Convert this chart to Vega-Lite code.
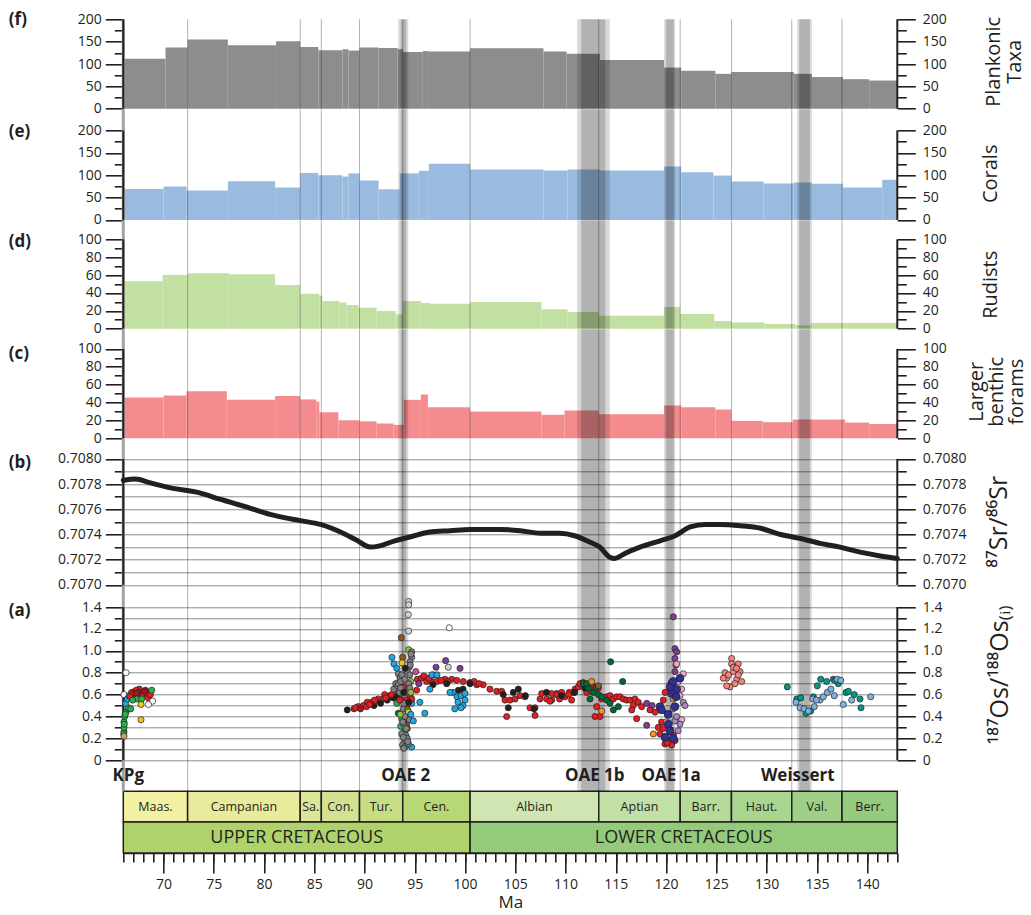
{
"$schema": "https://vega.github.io/schema/vega-lite/v6.json",
"autosize": {"type": "none"},
"padding": {"left": 123.3, "top": 19.3, "right": 907.7, "bottom": 895.7},
"background": "white",
"spacing": 0,
"bounds": "flush",
"resolve": {"scale": {"fill": "independent"}},
"config": {
 "view": {"stroke": null},
 "font": "Open Sans",
 "axis": {"labelFontSize": 14, "labelColor": "#231f20", "tickColor": "#231f20", "tickWidth": 1.6, "titleColor": "#231f20", "labelOverlap": false, "labelFlush": false, "labelFont": "Open Sans", "titleFont": "Open Sans"}
},
"datasets": {
 "plank": [
  {"start":66,"end":70.2,"n":112},{"start":70.2,"end":72.4,"n":137},{"start":72.4,"end":76.4,"n":155},{"start":76.4,"end":81.2,"n":142},{"start":81.2,"end":83.6,"n":151},{"start":83.6,"end":85.4,"n":138},{"start":85.4,"end":87.8,"n":131},{"start":87.8,"end":88.4,"n":133},{"start":88.4,"end":89.5,"n":130},{"start":89.5,"end":91.4,"n":137},{"start":91.4,"end":93.3,"n":136},{"start":93.3,"end":93.8,"n":133},{"start":93.8,"end":95.8,"n":127},{"start":95.8,"end":96.4,"n":129},{"start":96.4,"end":100.5,"n":128},{"start":100.5,"end":107.8,"n":135},{"start":107.8,"end":110.1,"n":128},{"start":110.1,"end":113.4,"n":123},{"start":113.4,"end":119.8,"n":109},{"start":119.8,"end":121.5,"n":92},{"start":121.5,"end":124.9,"n":85},{"start":124.9,"end":126.5,"n":78},{"start":126.5,"end":132.7,"n":82},{"start":132.7,"end":134.5,"n":78},{"start":134.5,"end":137.6,"n":71},{"start":137.6,"end":140.2,"n":66},{"start":140.2,"end":143,"n":63}
 ],
 "corals": [
  {"start":66,"end":70.0,"n":69},{"start":70.0,"end":72.3,"n":74.6},{"start":72.3,"end":76.4,"n":65.6},{"start":76.4,"end":81.1,"n":86.5},{"start":81.1,"end":83.6,"n":72.4},{"start":83.6,"end":85.4,"n":105},{"start":85.4,"end":87.8,"n":100},{"start":87.8,"end":88.4,"n":97},{"start":88.4,"end":89.5,"n":104},{"start":89.5,"end":91.4,"n":88},{"start":91.4,"end":93.5,"n":68.5},{"start":93.5,"end":95.4,"n":104},{"start":95.4,"end":96.4,"n":109.8},{"start":96.4,"end":100.5,"n":125.4},{"start":100.5,"end":107.8,"n":112.7},{"start":107.8,"end":110.2,"n":110.4},{"start":110.2,"end":113.4,"n":112.7},{"start":113.4,"end":119.8,"n":110.4},{"start":119.8,"end":121.5,"n":119.4},{"start":121.5,"end":124.7,"n":106.6},{"start":124.7,"end":126.5,"n":99.2},{"start":126.5,"end":129.7,"n":85.8},{"start":129.7,"end":132.7,"n":81.3},{"start":132.7,"end":134.5,"n":83.6},{"start":134.5,"end":137.6,"n":80.6},{"start":137.6,"end":141.5,"n":72.4},{"start":141.5,"end":143,"n":89.6}
 ],
 "rudists": [
  {"start":66,"end":69.9,"n":53},{"start":69.9,"end":72.4,"n":60},{"start":72.4,"end":76.5,"n":62},{"start":76.5,"end":81.1,"n":61},{"start":81.1,"end":83.6,"n":48.9},{"start":83.6,"end":85.5,"n":39},{"start":85.5,"end":85.8,"n":37},{"start":85.8,"end":87.5,"n":31},{"start":87.5,"end":88.2,"n":29.3},{"start":88.2,"end":89.4,"n":26.5},{"start":89.4,"end":91.2,"n":23.5},{"start":91.2,"end":93.1,"n":19.8},{"start":93.1,"end":93.8,"n":16},{"start":93.8,"end":95.6,"n":31},{"start":95.6,"end":96.5,"n":28.7},{"start":96.5,"end":100.5,"n":28},{"start":100.5,"end":107.6,"n":29.9},{"start":107.6,"end":110.2,"n":21.7},{"start":110.2,"end":113.3,"n":18.7},{"start":113.3,"end":119.8,"n":14.6},{"start":119.8,"end":121.4,"n":24.3},{"start":121.4,"end":124.8,"n":16.4},{"start":124.8,"end":126.5,"n":8.6},{"start":126.5,"end":129.8,"n":6.8},{"start":129.8,"end":132.9,"n":5.3},{"start":132.9,"end":134.4,"n":3.8},{"start":134.4,"end":143,"n":6.4}
 ],
 "lbf": [
  {"start":66,"end":70.0,"n":45.7},{"start":70.0,"end":72.3,"n":48},{"start":72.3,"end":76.3,"n":52.5},{"start":76.3,"end":81.1,"n":43.1},{"start":81.1,"end":83.6,"n":47.2},{"start":83.6,"end":85.2,"n":43.5},{"start":85.2,"end":85.5,"n":41},{"start":85.5,"end":87.4,"n":29.2},{"start":87.4,"end":89.5,"n":20.2},{"start":89.5,"end":91.2,"n":19},{"start":91.2,"end":92.9,"n":16.5},{"start":92.9,"end":93.9,"n":15},{"start":93.9,"end":95.6,"n":43},{"start":95.6,"end":96.3,"n":49},{"start":96.3,"end":100.5,"n":34.8},{"start":100.5,"end":107.6,"n":30},{"start":107.6,"end":109.9,"n":26.3},{"start":109.9,"end":113.3,"n":31.1},{"start":113.3,"end":119.8,"n":27},{"start":119.8,"end":121.5,"n":36.7},{"start":121.5,"end":124.9,"n":34.8},{"start":124.9,"end":126.5,"n":32.2},{"start":126.5,"end":129.6,"n":19.5},{"start":129.6,"end":132.6,"n":18},{"start":132.6,"end":137.8,"n":21},{"start":137.8,"end":140.2,"n":17.6},{"start":140.2,"end":143,"n":16}
 ],
 "sr": [
  {"Ma":66,"sr":0.70783},{"Ma":67.2,"sr":0.70784},{"Ma":68.7,"sr":0.70781},{"Ma":70.7,"sr":0.70777},{"Ma":73.6,"sr":0.70773},{"Ma":75.6,"sr":0.70768},{"Ma":78.6,"sr":0.70761},{"Ma":80.6,"sr":0.70756},{"Ma":83.6,"sr":0.70751},{"Ma":85.6,"sr":0.70748},{"Ma":87.6,"sr":0.70742},{"Ma":89.1,"sr":0.70736},{"Ma":90.6,"sr":0.7073},{"Ma":91.5,"sr":0.70731},{"Ma":93.0,"sr":0.70735},{"Ma":94.5,"sr":0.70738},{"Ma":96.5,"sr":0.70742},{"Ma":98.5,"sr":0.70743},{"Ma":100.5,"sr":0.70744},{"Ma":103.5,"sr":0.70744},{"Ma":105.5,"sr":0.70743},{"Ma":107.5,"sr":0.70741},{"Ma":109.4,"sr":0.70741},{"Ma":110.9,"sr":0.70739},{"Ma":112.4,"sr":0.70734},{"Ma":113.4,"sr":0.7073},{"Ma":114.4,"sr":0.70722},{"Ma":114.9,"sr":0.70721},{"Ma":115.9,"sr":0.70725},{"Ma":117.4,"sr":0.7073},{"Ma":119.4,"sr":0.70735},{"Ma":120.9,"sr":0.70739},{"Ma":122.4,"sr":0.70746},{"Ma":123.9,"sr":0.70748},{"Ma":125.4,"sr":0.70748},{"Ma":127.4,"sr":0.70747},{"Ma":129.4,"sr":0.70745},{"Ma":131.4,"sr":0.7074},{"Ma":133.3,"sr":0.70737},{"Ma":135.3,"sr":0.70733},{"Ma":137.3,"sr":0.7073},{"Ma":139.3,"sr":0.70726},{"Ma":141.3,"sr":0.70723},{"Ma":143,"sr":0.70721}
 ],
 "bands": [
  {"event":"OAE 2","s":93.35,"e":94.35,"part":"outer"},{"event":"OAE 2","s":93.6,"e":94.15,"part":"core"},
  {"event":"OAE 1b","s":111.15,"e":114.4,"part":"outer"},{"event":"OAE 1b","s":111.55,"e":113.95,"part":"core"},
  {"event":"OAE 1a","s":119.8,"e":120.9,"part":"outer"},{"event":"OAE 1a","s":120.0,"e":120.75,"part":"core"},
  {"event":"Weissert","s":133.05,"e":134.5,"part":"outer"},{"event":"Weissert","s":133.25,"e":134.3,"part":"core"}
 ],
 "bounds": [{"Ma":72.4},{"Ma":83.6},{"Ma":85.7},{"Ma":89.5},{"Ma":93.8},{"Ma":100.5},{"Ma":113.3},{"Ma":121.4},{"Ma":126.5},{"Ma":132.5},{"Ma":137.5}],
 "kpg": [{"Ma":66}],
 "frame": [{"Ma":66},{"Ma":143}],
 "events": [{"name":"KPg","Ma":66.5},{"name":"OAE 2","Ma":94.1},{"name":"OAE 1b","Ma":112.9},{"name":"OAE 1a","Ma":120.5},{"name":"Weissert","Ma":133.1}],
 "stages": [
  {"name":"Maas.","start":66,"end":72.4},{"name":"Campanian","start":72.4,"end":83.6},{"name":"Sa.","start":83.6,"end":85.7},{"name":"Con.","start":85.7,"end":89.5},{"name":"Tur.","start":89.5,"end":93.8},{"name":"Cen.","start":93.8,"end":100.5},{"name":"Albian","start":100.5,"end":113.3},{"name":"Aptian","start":113.3,"end":121.4},{"name":"Barr.","start":121.4,"end":126.5},{"name":"Haut.","start":126.5,"end":132.5},{"name":"Val.","start":132.5,"end":137.5},{"name":"Berr.","start":137.5,"end":143}
 ],
 "eras": [{"name":"UPPER CRETACEOUS","start":66,"end":100.5},{"name":"LOWER CRETACEOUS","start":100.5,"end":143}],
 "os": [
  {"Ma":66.27,"os":0.80,"grp":"s05"},{"Ma":66.07,"os":0.60,"grp":"s05"},{"Ma":66.07,"os":0.26,"grp":"s07"},{"Ma":66.07,"os":0.30,"grp":"s07"},{"Ma":66.07,"os":0.35,"grp":"s07"},{"Ma":66.14,"os":0.40,"grp":"s07"},{"Ma":66.27,"os":0.44,"grp":"s07"},{"Ma":66.5,"os":0.48,"grp":"s07"},{"Ma":66.74,"os":0.47,"grp":"s07"},{"Ma":66.04,"os":0.24,"grp":"s07"},{"Ma":66.1,"os":0.33,"grp":"s07"},{"Ma":66.2,"os":0.42,"grp":"s07"},{"Ma":66.07,"os":0.22,"grp":"s12"},{"Ma":66.24,"os":0.52,"grp":"s06"},{"Ma":66.4,"os":0.56,"grp":"s06"},{"Ma":66.57,"os":0.59,"grp":"s06"},{"Ma":66.83,"os":0.62,"grp":"s01"},{"Ma":67.16,"os":0.63,"grp":"s01"},{"Ma":67.6,"os":0.65,"grp":"s01"},{"Ma":68.0,"os":0.62,"grp":"s01"},{"Ma":68.33,"os":0.61,"grp":"s01"},{"Ma":68.5,"os":0.57,"grp":"s01"},{"Ma":67.0,"os":0.59,"grp":"s01"},{"Ma":67.83,"os":0.59,"grp":"s01"},{"Ma":67.3,"os":0.64,"grp":"s01"},{"Ma":66.9,"os":0.60,"grp":"s01"},{"Ma":68.7,"os":0.60,"grp":"s01"},{"Ma":66.67,"os":0.58,"grp":"s01"},{"Ma":67.5,"os":0.62,"grp":"s22"},{"Ma":67.3,"os":0.61,"grp":"s22"},{"Ma":68.2,"os":0.64,"grp":"s22"},{"Ma":68.1,"os":0.63,"grp":"s22"},{"Ma":68.83,"os":0.64,"grp":"s07"},{"Ma":67.33,"os":0.56,"grp":"s07"},{"Ma":67.83,"os":0.56,"grp":"s07"},{"Ma":66.93,"os":0.55,"grp":"s07"},{"Ma":68.92,"os":0.54,"grp":"s05"},{"Ma":68.5,"os":0.51,"grp":"s05"},{"Ma":67.76,"os":0.51,"grp":"s11"},{"Ma":67.76,"os":0.37,"grp":"s11"},
  {"Ma":88.28,"os":0.46,"grp":"s02"},{"Ma":88.95,"os":0.47,"grp":"s01"},{"Ma":89.38,"os":0.49,"grp":"s01"},{"Ma":89.88,"os":0.50,"grp":"s01"},{"Ma":90.27,"os":0.53,"grp":"s01"},{"Ma":90.71,"os":0.53,"grp":"s01"},{"Ma":90.94,"os":0.50,"grp":"s02"},{"Ma":91.37,"os":0.56,"grp":"s01"},{"Ma":91.87,"os":0.56,"grp":"s01"},{"Ma":92.26,"os":0.55,"grp":"s02"},{"Ma":92.53,"os":0.59,"grp":"s01"},{"Ma":93.03,"os":0.62,"grp":"s01"},{"Ma":92.0,"os":0.60,"grp":"s01"},{"Ma":92.86,"os":0.57,"grp":"s02"},{"Ma":90.2,"os":0.49,"grp":"s01"},{"Ma":89.1,"os":0.48,"grp":"s01"},{"Ma":89.6,"os":0.47,"grp":"s22"},{"Ma":90.5,"os":0.51,"grp":"s01"},{"Ma":91.1,"os":0.54,"grp":"s01"},{"Ma":91.6,"os":0.52,"grp":"s02"},{"Ma":92.1,"os":0.57,"grp":"s01"},{"Ma":92.7,"os":0.60,"grp":"s01"},{"Ma":93.2,"os":0.58,"grp":"s02"},{"Ma":91.0,"os":0.55,"grp":"s01"},{"Ma":92.9,"os":0.65,"grp":"s03"},{"Ma":93.1,"os":0.70,"grp":"s03"},{"Ma":93.3,"os":0.68,"grp":"s03"},
  {"Ma":94.39,"os":1.45,"grp":"s04"},{"Ma":94.39,"os":1.42,"grp":"s04"},{"Ma":94.35,"os":1.33,"grp":"s04"},{"Ma":94.39,"os":1.18,"grp":"s04"},{"Ma":93.66,"os":1.12,"grp":"s10"},{"Ma":94.39,"os":1.01,"grp":"s08"},{"Ma":94.69,"os":0.99,"grp":"s03"},{"Ma":94.69,"os":0.94,"grp":"s03"},{"Ma":94.52,"os":0.90,"grp":"s03"},{"Ma":94.45,"os":0.85,"grp":"s03"},{"Ma":94.25,"os":0.81,"grp":"s03"},{"Ma":93.36,"os":0.79,"grp":"s03"},{"Ma":93.52,"os":0.75,"grp":"s03"},{"Ma":93.79,"os":0.94,"grp":"s10"},{"Ma":92.73,"os":0.94,"grp":"s06"},{"Ma":92.93,"os":0.88,"grp":"s06"},{"Ma":93.2,"os":0.84,"grp":"s06"},{"Ma":93.73,"os":0.89,"grp":"s11"},{"Ma":95.1,"os":0.81,"grp":"s18"},{"Ma":94.6,"os":0.72,"grp":"s08"},{"Ma":94.3,"os":0.64,"grp":"s07"},{"Ma":93.86,"os":0.67,"grp":"s01"},{"Ma":94.52,"os":0.59,"grp":"s01"},{"Ma":95.18,"os":0.64,"grp":"s01"},{"Ma":93.7,"os":0.56,"grp":"s01"},{"Ma":94.2,"os":0.50,"grp":"s01"},{"Ma":93.5,"os":0.62,"grp":"s03"},{"Ma":94.0,"os":0.59,"grp":"s03"},{"Ma":93.86,"os":0.47,"grp":"s03"},{"Ma":93.2,"os":0.52,"grp":"s07"},{"Ma":94.3,"os":0.46,"grp":"s07"},{"Ma":94.7,"os":0.52,"grp":"s06"},{"Ma":95.5,"os":0.53,"grp":"s06"},{"Ma":96.0,"os":0.43,"grp":"s06"},{"Ma":93.36,"os":0.43,"grp":"s09"},{"Ma":94.36,"os":0.44,"grp":"s11"},{"Ma":94.2,"os":0.38,"grp":"s01"},{"Ma":93.7,"os":0.38,"grp":"s07"},{"Ma":94.2,"os":0.33,"grp":"s10"},{"Ma":94.25,"os":0.29,"grp":"s10"},{"Ma":93.6,"os":0.31,"grp":"s07"},{"Ma":93.95,"os":0.26,"grp":"s03"},{"Ma":94.1,"os":0.23,"grp":"s03"},{"Ma":94.0,"os":0.18,"grp":"s03"},{"Ma":94.25,"os":0.20,"grp":"s03"},{"Ma":93.79,"os":0.14,"grp":"s03"},{"Ma":94.1,"os":0.13,"grp":"s07"},{"Ma":94.69,"os":0.12,"grp":"s06"},{"Ma":94.36,"os":0.15,"grp":"s03"},{"Ma":93.9,"os":0.33,"grp":"s03"},{"Ma":94.45,"os":0.37,"grp":"s03"},{"Ma":93.7,"os":0.24,"grp":"s03"},{"Ma":94.85,"os":0.36,"grp":"s06"},{"Ma":94.6,"os":0.42,"grp":"s06"},{"Ma":93.36,"os":0.70,"grp":"s03"},{"Ma":93.6,"os":0.72,"grp":"s03"},{"Ma":93.7,"os":0.78,"grp":"s03"},{"Ma":94.0,"os":0.74,"grp":"s03"},{"Ma":94.7,"os":0.56,"grp":"s01"},{"Ma":94.2,"os":0.55,"grp":"s01"},{"Ma":94.4,"os":0.70,"grp":"s03"},{"Ma":94.5,"os":0.66,"grp":"s03"},{"Ma":94.1,"os":0.62,"grp":"s03"},{"Ma":93.9,"os":0.52,"grp":"s03"},{"Ma":94.0,"os":0.40,"grp":"s03"},{"Ma":93.8,"os":0.35,"grp":"s03"},{"Ma":94.15,"os":0.29,"grp":"s03"},{"Ma":93.85,"os":0.21,"grp":"s03"},{"Ma":94.3,"os":0.17,"grp":"s03"},{"Ma":94.5,"os":0.78,"grp":"s03"},{"Ma":94.55,"os":0.87,"grp":"s03"},{"Ma":94.62,"os":0.97,"grp":"s03"},{"Ma":93.6,"os":0.66,"grp":"s03"},{"Ma":94.05,"os":0.84,"grp":"s02"},{"Ma":93.9,"os":0.62,"grp":"s02"},{"Ma":94.4,"os":0.53,"grp":"s02"},{"Ma":93.5,"os":0.55,"grp":"s01"},{"Ma":94.6,"os":0.62,"grp":"s08"},{"Ma":93.55,"os":0.42,"grp":"s08"},{"Ma":93.9,"os":0.11,"grp":"s03"},
  {"Ma":95.25,"os":0.74,"grp":"s01"},{"Ma":95.68,"os":0.75,"grp":"s01"},{"Ma":96.18,"os":0.72,"grp":"s01"},{"Ma":96.68,"os":0.72,"grp":"s01"},{"Ma":97.18,"os":0.72,"grp":"s01"},{"Ma":98.0,"os":0.74,"grp":"s01"},{"Ma":98.67,"os":0.74,"grp":"s01"},{"Ma":99.17,"os":0.73,"grp":"s01"},{"Ma":99.82,"os":0.72,"grp":"s01"},{"Ma":100.49,"os":0.71,"grp":"s01"},{"Ma":101.16,"os":0.69,"grp":"s01"},{"Ma":101.8,"os":0.69,"grp":"s01"},{"Ma":102.48,"os":0.65,"grp":"s01"},{"Ma":103.15,"os":0.63,"grp":"s01"},{"Ma":103.64,"os":0.63,"grp":"s01"},{"Ma":103.97,"os":0.55,"grp":"s01"},{"Ma":104.47,"os":0.55,"grp":"s01"},{"Ma":104.97,"os":0.56,"grp":"s01"},{"Ma":105.47,"os":0.59,"grp":"s01"},{"Ma":105.96,"os":0.58,"grp":"s01"},{"Ma":106.46,"os":0.48,"grp":"s01"},{"Ma":106.96,"os":0.48,"grp":"s01"},{"Ma":107.46,"os":0.56,"grp":"s01"},{"Ma":108.12,"os":0.56,"grp":"s01"},{"Ma":108.62,"os":0.55,"grp":"s01"},{"Ma":109.12,"os":0.61,"grp":"s01"},{"Ma":96.84,"os":0.78,"grp":"s01"},{"Ma":95.9,"os":0.77,"grp":"s01"},{"Ma":96.4,"os":0.75,"grp":"s01"},{"Ma":97.6,"os":0.73,"grp":"s01"},{"Ma":98.3,"os":0.72,"grp":"s01"},{"Ma":100.9,"os":0.72,"grp":"s01"},{"Ma":101.4,"os":0.70,"grp":"s01"},{"Ma":95.4,"os":0.70,"grp":"s13"},
  {"Ma":98.17,"os":0.70,"grp":"s02"},{"Ma":99.33,"os":0.64,"grp":"s02"},{"Ma":99.8,"os":0.65,"grp":"s02"},{"Ma":100.5,"os":0.70,"grp":"s02"},{"Ma":103.8,"os":0.60,"grp":"s02"},{"Ma":104.8,"os":0.62,"grp":"s02"},{"Ma":105.3,"os":0.65,"grp":"s02"},{"Ma":104.3,"os":0.48,"grp":"s02"},{"Ma":106.0,"os":0.59,"grp":"s02"},{"Ma":106.86,"os":0.47,"grp":"s02"},{"Ma":96.8,"os":0.69,"grp":"s02"},{"Ma":104.14,"os":0.40,"grp":"s01"},{"Ma":106.96,"os":0.41,"grp":"s01"},
  {"Ma":98.8,"os":0.62,"grp":"s06"},{"Ma":99.2,"os":0.58,"grp":"s06"},{"Ma":99.6,"os":0.59,"grp":"s06"},{"Ma":100.0,"os":0.55,"grp":"s06"},{"Ma":99.3,"os":0.53,"grp":"s06"},{"Ma":99.8,"os":0.50,"grp":"s06"},{"Ma":98.98,"os":0.47,"grp":"s06"},{"Ma":99.6,"os":0.48,"grp":"s06"},{"Ma":98.5,"os":0.62,"grp":"s06"},{"Ma":100.0,"os":0.61,"grp":"s06"},{"Ma":96.7,"os":0.78,"grp":"s06"},{"Ma":96.5,"os":0.65,"grp":"s06"},{"Ma":97.2,"os":0.78,"grp":"s06"},
  {"Ma":97.11,"os":0.85,"grp":"s13"},{"Ma":98.07,"os":0.91,"grp":"s13"},{"Ma":99.5,"os":0.84,"grp":"s13"},{"Ma":98.33,"os":0.85,"grp":"s04"},{"Ma":98.43,"os":1.21,"grp":"s05"},
  {"Ma":107.62,"os":0.61,"grp":"s01"},{"Ma":108.45,"os":0.54,"grp":"s01"},{"Ma":109.05,"os":0.60,"grp":"s01"},{"Ma":109.61,"os":0.62,"grp":"s01"},{"Ma":109.94,"os":0.58,"grp":"s01"},{"Ma":110.37,"os":0.62,"grp":"s01"},{"Ma":110.6,"os":0.55,"grp":"s01"},{"Ma":110.94,"os":0.65,"grp":"s01"},{"Ma":111.27,"os":0.67,"grp":"s01"},{"Ma":111.43,"os":0.70,"grp":"s01"},{"Ma":111.76,"os":0.71,"grp":"s01"},{"Ma":112.1,"os":0.62,"grp":"s01"},{"Ma":112.43,"os":0.64,"grp":"s01"},{"Ma":112.76,"os":0.67,"grp":"s01"},{"Ma":113.26,"os":0.66,"grp":"s01"},{"Ma":113.59,"os":0.56,"grp":"s01"},{"Ma":114.09,"os":0.58,"grp":"s01"},{"Ma":114.42,"os":0.59,"grp":"s01"},{"Ma":114.75,"os":0.56,"grp":"s01"},{"Ma":115.08,"os":0.58,"grp":"s01"},{"Ma":115.41,"os":0.58,"grp":"s01"},{"Ma":115.74,"os":0.56,"grp":"s01"},{"Ma":116.08,"os":0.55,"grp":"s01"},{"Ma":116.41,"os":0.55,"grp":"s01"},{"Ma":116.74,"os":0.50,"grp":"s01"},{"Ma":116.9,"os":0.56,"grp":"s01"},{"Ma":117.23,"os":0.53,"grp":"s01"},{"Ma":117.57,"os":0.49,"grp":"s01"},{"Ma":116.58,"os":0.46,"grp":"s01"},{"Ma":117.07,"os":0.38,"grp":"s01"},{"Ma":113.09,"os":0.49,"grp":"s01"},{"Ma":113.42,"os":0.40,"grp":"s01"},{"Ma":112.93,"os":0.40,"grp":"s01"},{"Ma":108.6,"os":0.61,"grp":"s01"},{"Ma":109.4,"os":0.56,"grp":"s01"},{"Ma":110.8,"os":0.62,"grp":"s01"},{"Ma":110.3,"os":0.60,"grp":"s01"},
  {"Ma":108.1,"os":0.62,"grp":"s02"},{"Ma":109.6,"os":0.59,"grp":"s02"},{"Ma":110.9,"os":0.62,"grp":"s02"},{"Ma":111.9,"os":0.66,"grp":"s02"},
  {"Ma":111.76,"os":0.70,"grp":"s09"},{"Ma":112.26,"os":0.66,"grp":"s09"},{"Ma":112.43,"os":0.56,"grp":"s09"},{"Ma":112.76,"os":0.62,"grp":"s09"},{"Ma":113.26,"os":0.60,"grp":"s09"},{"Ma":113.59,"os":0.58,"grp":"s09"},{"Ma":114.09,"os":0.55,"grp":"s09"},{"Ma":114.42,"os":0.52,"grp":"s09"},{"Ma":114.75,"os":0.46,"grp":"s09"},{"Ma":115.25,"os":0.49,"grp":"s09"},{"Ma":114.48,"os":0.90,"grp":"s09"},{"Ma":115.68,"os":0.72,"grp":"s09"},{"Ma":112.1,"os":0.70,"grp":"s09"},{"Ma":113.0,"os":0.66,"grp":"s09"},
  {"Ma":112.6,"os":0.72,"grp":"s17"},{"Ma":113.59,"os":0.45,"grp":"s17"},{"Ma":118.73,"os":0.24,"grp":"s17"},{"Ma":120.72,"os":0.56,"grp":"s17"},{"Ma":113.26,"os":0.68,"grp":"s10"},
  {"Ma":118.07,"os":0.52,"grp":"s13"},{"Ma":118.07,"os":0.32,"grp":"s13"},{"Ma":120.72,"os":1.31,"grp":"s13"},{"Ma":120.88,"os":1.02,"grp":"s13"},{"Ma":121.05,"os":0.99,"grp":"s13"},{"Ma":120.88,"os":0.93,"grp":"s13"},{"Ma":120.98,"os":0.87,"grp":"s13"},{"Ma":120.88,"os":0.81,"grp":"s13"},{"Ma":118.6,"os":0.50,"grp":"s13"},
  {"Ma":119.22,"os":0.30,"grp":"s01"},{"Ma":119.72,"os":0.29,"grp":"s01"},{"Ma":120.39,"os":0.26,"grp":"s01"},{"Ma":120.22,"os":0.18,"grp":"s01"},{"Ma":120.72,"os":0.23,"grp":"s01"},{"Ma":119.39,"os":0.24,"grp":"s01"},{"Ma":119.89,"os":0.15,"grp":"s01"},{"Ma":120.55,"os":0.14,"grp":"s01"},{"Ma":119.72,"os":0.55,"grp":"s01"},{"Ma":119.9,"os":0.62,"grp":"s01"},{"Ma":119.55,"os":0.35,"grp":"s01"},{"Ma":120.1,"os":0.16,"grp":"s01"},{"Ma":120.9,"os":0.18,"grp":"s01"},{"Ma":118.4,"os":0.46,"grp":"s01"},{"Ma":118.9,"os":0.44,"grp":"s01"},
  {"Ma":121.71,"os":0.79,"grp":"s15"},{"Ma":121.55,"os":0.65,"grp":"s15"},{"Ma":121.38,"os":0.59,"grp":"s15"},{"Ma":120.05,"os":0.35,"grp":"s15"},{"Ma":121.55,"os":0.37,"grp":"s15"},{"Ma":121.05,"os":0.88,"grp":"s15"},{"Ma":121.2,"os":0.72,"grp":"s15"},
  {"Ma":121.71,"os":0.53,"grp":"s16"},{"Ma":121.38,"os":0.33,"grp":"s16"},{"Ma":120.88,"os":0.36,"grp":"s16"},{"Ma":121.05,"os":0.40,"grp":"s16"},{"Ma":121.88,"os":0.50,"grp":"s16"},{"Ma":120.7,"os":0.47,"grp":"s16"},{"Ma":121.2,"os":0.27,"grp":"s16"},
  {"Ma":120.55,"os":0.70,"grp":"s14"},{"Ma":121.05,"os":0.65,"grp":"s14"},{"Ma":121.38,"os":0.75,"grp":"s14"},{"Ma":120.55,"os":0.61,"grp":"s14"},{"Ma":120.88,"os":0.49,"grp":"s14"},{"Ma":119.39,"os":0.49,"grp":"s14"},{"Ma":119.55,"os":0.46,"grp":"s14"},{"Ma":120.22,"os":0.33,"grp":"s14"},{"Ma":119.89,"os":0.21,"grp":"s14"},{"Ma":120.72,"os":0.20,"grp":"s14"},{"Ma":120.39,"os":0.67,"grp":"s14"},{"Ma":120.7,"os":0.72,"grp":"s14"},{"Ma":121.0,"os":0.58,"grp":"s14"},{"Ma":120.2,"os":0.42,"grp":"s14"},{"Ma":120.4,"os":0.27,"grp":"s14"},
  {"Ma":126.52,"os":0.93,"grp":"s19"},{"Ma":126.52,"os":0.88,"grp":"s19"},{"Ma":127.18,"os":0.88,"grp":"s19"},{"Ma":125.86,"os":0.80,"grp":"s19"},{"Ma":126.68,"os":0.81,"grp":"s19"},{"Ma":127.35,"os":0.81,"grp":"s19"},{"Ma":126.03,"os":0.75,"grp":"s19"},{"Ma":127.02,"os":0.74,"grp":"s19"},{"Ma":127.52,"os":0.72,"grp":"s19"},{"Ma":126.36,"os":0.67,"grp":"s19"},{"Ma":126.03,"os":0.68,"grp":"s19"},{"Ma":126.85,"os":0.70,"grp":"s19"},{"Ma":125.69,"os":0.75,"grp":"s19"},{"Ma":127.18,"os":0.78,"grp":"s19"},{"Ma":126.7,"os":0.85,"grp":"s19"},{"Ma":126.2,"os":0.78,"grp":"s19"},{"Ma":127.0,"os":0.84,"grp":"s19"},
  {"Ma":132.06,"os":0.67,"grp":"s20"},{"Ma":133.0,"os":0.56,"grp":"s20"},{"Ma":133.39,"os":0.57,"grp":"s20"},{"Ma":133.92,"os":0.43,"grp":"s20"},{"Ma":134.38,"os":0.45,"grp":"s20"},{"Ma":134.65,"os":0.58,"grp":"s20"},{"Ma":135.04,"os":0.68,"grp":"s20"},{"Ma":135.38,"os":0.74,"grp":"s20"},{"Ma":135.97,"os":0.72,"grp":"s20"},{"Ma":136.63,"os":0.74,"grp":"s20"},{"Ma":137.13,"os":0.70,"grp":"s20"},{"Ma":137.3,"os":0.73,"grp":"s20"},{"Ma":137.9,"os":0.62,"grp":"s20"},{"Ma":138.13,"os":0.63,"grp":"s20"},{"Ma":138.72,"os":0.60,"grp":"s20"},{"Ma":139.29,"os":0.56,"grp":"s20"},{"Ma":139.39,"os":0.48,"grp":"s20"},{"Ma":136.8,"os":0.73,"grp":"s20"},
  {"Ma":132.92,"os":0.53,"grp":"s21"},{"Ma":133.32,"os":0.48,"grp":"s21"},{"Ma":133.72,"os":0.47,"grp":"s21"},{"Ma":134.15,"os":0.45,"grp":"s21"},{"Ma":134.74,"os":0.49,"grp":"s21"},{"Ma":134.58,"os":0.56,"grp":"s21"},{"Ma":135.31,"os":0.55,"grp":"s21"},{"Ma":135.64,"os":0.58,"grp":"s21"},{"Ma":136.04,"os":0.62,"grp":"s21"},{"Ma":136.4,"os":0.65,"grp":"s21"},{"Ma":136.73,"os":0.59,"grp":"s21"},{"Ma":137.03,"os":0.74,"grp":"s21"},{"Ma":137.37,"os":0.73,"grp":"s21"},{"Ma":137.63,"os":0.51,"grp":"s21"},{"Ma":138.46,"os":0.55,"grp":"s21"},{"Ma":140.35,"os":0.58,"grp":"s21"},{"Ma":134.95,"os":0.55,"grp":"s21"}
 ]
},
"vconcat": [
 {
  "width": 774, "height": 89.4,
  "resolve": {"axis": {"y": "independent"}},
  "layer": [
   {"data": {"name": "plank"}, "mark": {"type": "rect", "color": "#8e8c8d"},
    "encoding": {
     "x": {"field": "start", "type": "quantitative", "scale": {"domain": [66,143], "nice": false, "zero": false}, "axis": null},
     "x2": {"field": "end"},
     "y": {"field": "n", "type": "quantitative", "scale": {"domain": [0,200], "nice": false, "zero": false},
      "axis": {"orient": "left", "values": [0,25,50,75,100,125,150,175,200], "labelExpr": "datum.value % 50 === 0 ? datum.label : ''", "tickSize": {"condition": {"test": "datum.value % 50 === 0", "value": 18}, "value": 9}, "labelPadding": 4, "domain": false, "grid": false, "title": "(f)", "titleAngle": 0, "titleAlign": "left", "titleBaseline": "middle", "titleX": -115, "titleY": 0, "titleFontSize": 17, "titleFontWeight": "bold"}},
     "y2": {"datum": 0}
    }},
   {"data": {"name": "bands"}, "mark": {"type": "rect", "color": "#000"},
    "encoding": {"x": {"field": "s", "type": "quantitative", "scale": {"domain": [66,143], "nice": false, "zero": false}, "axis": null}, "x2": {"field": "e"}, "opacity": {"field": "part", "type": "nominal", "scale": {"domain": ["outer","core"], "range": [0.15,0.18]}, "legend": null}}},
   {"data": {"name": "bounds"}, "mark": {"type": "rule", "color": "#000", "opacity": 0.3, "strokeWidth": 1},
    "encoding": {"x": {"field": "Ma", "type": "quantitative", "scale": {"domain": [66,143], "nice": false, "zero": false}, "axis": null}}},
   {"data": {"name": "kpg"}, "mark": {"type": "rule", "color": "#a3a3a3", "strokeWidth": 3},
    "encoding": {"x": {"field": "Ma", "type": "quantitative", "scale": {"domain": [66,143], "nice": false, "zero": false}, "axis": null}}},
   {"data": {"name": "frame"}, "mark": {"type": "rule", "color": "#231f20", "strokeWidth": 2},
    "encoding": {
     "x": {"field": "Ma", "type": "quantitative", "scale": {"domain": [66,143], "nice": false, "zero": false}, "axis": null},
     "y": {"datum": 0, "type": "quantitative", "scale": {"domain": [0,200], "nice": false, "zero": false},
      "axis": {"orient": "right", "values": [0,25,50,75,100,125,150,175,200], "labelExpr": "datum.value % 50 === 0 ? datum.label : ''", "tickSize": {"condition": {"test": "datum.value % 50 === 0", "value": 18}, "value": 9}, "labelPadding": 7, "domain": false, "grid": false, "title": ["Plankonic","Taxa"], "titleAngle": 270, "titleAlign": "center", "titleBaseline": "middle", "titleX": 96, "titleY": 42, "titleFontSize": 20, "titleFontWeight": "normal", "titleLineHeight": 21}},
     "y2": {"datum": 200}
    }}
  ]
 },
 {
  "width": 774, "height": 110.6,
  "resolve": {"axis": {"y": "independent"}},
  "layer": [
   {"data": {"name": "corals"}, "mark": {"type": "rect", "color": "#99bbdf"},
    "encoding": {
     "x": {"field": "start", "type": "quantitative", "scale": {"domain": [66,143], "nice": false, "zero": false}, "axis": null},
     "x2": {"field": "end"},
     "y": {"field": "n", "type": "quantitative", "scale": {"domain": [0,247.4], "nice": false, "zero": false},
      "axis": {"orient": "left", "values": [0,25,50,75,100,125,150,175,200], "labelExpr": "datum.value % 50 === 0 ? datum.label : ''", "tickSize": {"condition": {"test": "datum.value % 50 === 0", "value": 18}, "value": 9}, "labelPadding": 4, "domain": false, "grid": false, "title": "(e)", "titleAngle": 0, "titleAlign": "left", "titleBaseline": "middle", "titleX": -115, "titleY": 22, "titleFontSize": 17, "titleFontWeight": "bold"}},
     "y2": {"datum": 0}
    }},
   {"data": {"name": "bands"}, "mark": {"type": "rect", "color": "#000"},
    "encoding": {"x": {"field": "s", "type": "quantitative", "scale": {"domain": [66,143], "nice": false, "zero": false}, "axis": null}, "x2": {"field": "e"}, "opacity": {"field": "part", "type": "nominal", "scale": {"domain": ["outer","core"], "range": [0.15,0.18]}, "legend": null}}},
   {"data": {"name": "bounds"}, "mark": {"type": "rule", "color": "#000", "opacity": 0.3, "strokeWidth": 1},
    "encoding": {"x": {"field": "Ma", "type": "quantitative", "scale": {"domain": [66,143], "nice": false, "zero": false}, "axis": null}}},
   {"data": {"name": "kpg"}, "mark": {"type": "rule", "color": "#a3a3a3", "strokeWidth": 3},
    "encoding": {"x": {"field": "Ma", "type": "quantitative", "scale": {"domain": [66,143], "nice": false, "zero": false}, "axis": null}}},
   {"data": {"name": "frame"}, "mark": {"type": "rule", "color": "#231f20", "strokeWidth": 2},
    "encoding": {
     "x": {"field": "Ma", "type": "quantitative", "scale": {"domain": [66,143], "nice": false, "zero": false}, "axis": null},
     "y": {"datum": 0, "type": "quantitative", "scale": {"domain": [0,247.4], "nice": false, "zero": false},
      "axis": {"orient": "right", "values": [0,25,50,75,100,125,150,175,200], "labelExpr": "datum.value % 50 === 0 ? datum.label : ''", "tickSize": {"condition": {"test": "datum.value % 50 === 0", "value": 18}, "value": 9}, "labelPadding": 7, "domain": false, "grid": false, "title": "Corals", "titleAngle": 270, "titleAlign": "center", "titleBaseline": "middle", "titleX": 93, "titleY": 64, "titleFontSize": 20, "titleFontWeight": "normal"}},
     "y2": {"datum": 200}
    }}
  ]
 },
 {
  "width": 774, "height": 108.4,
  "resolve": {"axis": {"y": "independent"}},
  "layer": [
   {"data": {"name": "rudists"}, "mark": {"type": "rect", "color": "#c2e0a1"},
    "encoding": {
     "x": {"field": "start", "type": "quantitative", "scale": {"domain": [66,143], "nice": false, "zero": false}, "axis": null},
     "x2": {"field": "end"},
     "y": {"field": "n", "type": "quantitative", "scale": {"domain": [0,121.25], "nice": false, "zero": false},
      "axis": {"orient": "left", "values": [0,10,20,30,40,50,60,70,80,90,100], "labelExpr": "datum.value % 20 === 0 ? datum.label : ''", "tickSize": {"condition": {"test": "datum.value % 20 === 0", "value": 18}, "value": 9}, "labelPadding": 4, "domain": false, "grid": false, "title": "(d)", "titleAngle": 0, "titleAlign": "left", "titleBaseline": "middle", "titleX": -115, "titleY": 21, "titleFontSize": 17, "titleFontWeight": "bold"}},
     "y2": {"datum": 0}
    }},
   {"data": {"name": "bands"}, "mark": {"type": "rect", "color": "#000"},
    "encoding": {"x": {"field": "s", "type": "quantitative", "scale": {"domain": [66,143], "nice": false, "zero": false}, "axis": null}, "x2": {"field": "e"}, "opacity": {"field": "part", "type": "nominal", "scale": {"domain": ["outer","core"], "range": [0.15,0.18]}, "legend": null}}},
   {"data": {"name": "bounds"}, "mark": {"type": "rule", "color": "#000", "opacity": 0.3, "strokeWidth": 1},
    "encoding": {"x": {"field": "Ma", "type": "quantitative", "scale": {"domain": [66,143], "nice": false, "zero": false}, "axis": null}}},
   {"data": {"name": "kpg"}, "mark": {"type": "rule", "color": "#a3a3a3", "strokeWidth": 3},
    "encoding": {"x": {"field": "Ma", "type": "quantitative", "scale": {"domain": [66,143], "nice": false, "zero": false}, "axis": null}}},
   {"data": {"name": "frame"}, "mark": {"type": "rule", "color": "#231f20", "strokeWidth": 2},
    "encoding": {
     "x": {"field": "Ma", "type": "quantitative", "scale": {"domain": [66,143], "nice": false, "zero": false}, "axis": null},
     "y": {"datum": 0, "type": "quantitative", "scale": {"domain": [0,121.25], "nice": false, "zero": false},
      "axis": {"orient": "right", "values": [0,10,20,30,40,50,60,70,80,90,100], "labelExpr": "datum.value % 20 === 0 ? datum.label : ''", "tickSize": {"condition": {"test": "datum.value % 20 === 0", "value": 18}, "value": 9}, "labelPadding": 7, "domain": false, "grid": false, "title": "Rudists", "titleAngle": 270, "titleAlign": "center", "titleBaseline": "middle", "titleX": 93, "titleY": 64, "titleFontSize": 20, "titleFontWeight": "normal"}},
     "y2": {"datum": 100}
    }}
  ]
 },
 {
  "width": 774, "height": 109,
  "resolve": {"axis": {"y": "independent"}},
  "layer": [
   {"data": {"name": "lbf"}, "mark": {"type": "rect", "color": "#f48c8f"},
    "encoding": {
     "x": {"field": "start", "type": "quantitative", "scale": {"domain": [66,143], "nice": false, "zero": false}, "axis": null},
     "x2": {"field": "end"},
     "y": {"field": "n", "type": "quantitative", "scale": {"domain": [0,121.9], "nice": false, "zero": false},
      "axis": {"orient": "left", "values": [0,10,20,30,40,50,60,70,80,90,100], "labelExpr": "datum.value % 20 === 0 ? datum.label : ''", "tickSize": {"condition": {"test": "datum.value % 20 === 0", "value": 18}, "value": 9}, "labelPadding": 4, "domain": false, "grid": false, "title": "(c)", "titleAngle": 0, "titleAlign": "left", "titleBaseline": "middle", "titleX": -115, "titleY": 24, "titleFontSize": 17, "titleFontWeight": "bold"}},
     "y2": {"datum": 0}
    }},
   {"data": {"name": "bands"}, "mark": {"type": "rect", "color": "#000"},
    "encoding": {"x": {"field": "s", "type": "quantitative", "scale": {"domain": [66,143], "nice": false, "zero": false}, "axis": null}, "x2": {"field": "e"}, "opacity": {"field": "part", "type": "nominal", "scale": {"domain": ["outer","core"], "range": [0.15,0.18]}, "legend": null}}},
   {"data": {"name": "bounds"}, "mark": {"type": "rule", "color": "#000", "opacity": 0.3, "strokeWidth": 1},
    "encoding": {"x": {"field": "Ma", "type": "quantitative", "scale": {"domain": [66,143], "nice": false, "zero": false}, "axis": null}}},
   {"data": {"name": "kpg"}, "mark": {"type": "rule", "color": "#a3a3a3", "strokeWidth": 3},
    "encoding": {"x": {"field": "Ma", "type": "quantitative", "scale": {"domain": [66,143], "nice": false, "zero": false}, "axis": null}}},
   {"data": {"name": "frame"}, "mark": {"type": "rule", "color": "#231f20", "strokeWidth": 2},
    "encoding": {
     "x": {"field": "Ma", "type": "quantitative", "scale": {"domain": [66,143], "nice": false, "zero": false}, "axis": null},
     "y": {"datum": 0, "type": "quantitative", "scale": {"domain": [0,121.9], "nice": false, "zero": false},
      "axis": {"orient": "right", "values": [0,10,20,30,40,50,60,70,80,90,100], "labelExpr": "datum.value % 20 === 0 ? datum.label : ''", "tickSize": {"condition": {"test": "datum.value % 20 === 0", "value": 18}, "value": 9}, "labelPadding": 7, "domain": false, "grid": false, "title": ["Larger","benthic","forams"], "titleAngle": 270, "titleAlign": "center", "titleBaseline": "middle", "titleX": 79, "titleY": 62, "titleFontSize": 20, "titleFontWeight": "normal", "titleLineHeight": 20}},
     "y2": {"datum": 100}
    }}
  ]
 },
 {
  "width": 774, "height": 146.6,
  "resolve": {"axis": {"y": "independent"}},
  "layer": [
   {"data": {"name": "bands"}, "mark": {"type": "rect", "color": "#000"},
    "encoding": {"x": {"field": "s", "type": "quantitative", "scale": {"domain": [66,143], "nice": false, "zero": false}, "axis": null}, "x2": {"field": "e"}, "opacity": {"field": "part", "type": "nominal", "scale": {"domain": ["outer","core"], "range": [0.15,0.18]}, "legend": null}}},
   {"data": {"name": "bounds"}, "mark": {"type": "rule", "color": "#000", "opacity": 0.3, "strokeWidth": 1},
    "encoding": {"x": {"field": "Ma", "type": "quantitative", "scale": {"domain": [66,143], "nice": false, "zero": false}, "axis": null}}},
   {"data": {"name": "kpg"}, "mark": {"type": "rule", "color": "#a3a3a3", "strokeWidth": 3},
    "encoding": {"x": {"field": "Ma", "type": "quantitative", "scale": {"domain": [66,143], "nice": false, "zero": false}, "axis": null}}},
   {"data": {"name": "sr"}, "mark": {"type": "line", "color": "#231f20", "strokeWidth": 5, "interpolate": "monotone", "strokeCap": "round"},
    "encoding": {
     "x": {"field": "Ma", "type": "quantitative", "scale": {"domain": [66,143], "nice": false, "zero": false}, "axis": null},
     "y": {"field": "sr", "type": "quantitative", "scale": {"domain": [0.707,0.7081635], "nice": false, "zero": false},
      "axis": {"orient": "left", "values": [0.707,0.7071,0.7072,0.7073,0.7074,0.7075,0.7076,0.7077,0.7078,0.7079,0.708], "labelExpr": "round(datum.value*10000) % 2 === 0 ? format(datum.value, '.4f') : ''", "tickSize": {"condition": {"test": "round(datum.value*10000) % 2 === 0", "value": 18}, "value": 9}, "labelPadding": 4, "domain": false, "grid": true, "gridColor": "#8c8c8c", "gridWidth": 1, "title": "(b)", "titleAngle": 0, "titleAlign": "left", "titleBaseline": "middle", "titleX": -115, "titleY": 24, "titleFontSize": 17, "titleFontWeight": "bold"}}
    }},
   {"data": {"name": "frame"}, "mark": {"type": "rule", "color": "#231f20", "strokeWidth": 2},
    "encoding": {
     "x": {"field": "Ma", "type": "quantitative", "scale": {"domain": [66,143], "nice": false, "zero": false}, "axis": null},
     "y": {"datum": 0.707, "type": "quantitative", "scale": {"domain": [0.707,0.7081635], "nice": false, "zero": false},
      "axis": {"orient": "right", "values": [0.707,0.7071,0.7072,0.7073,0.7074,0.7075,0.7076,0.7077,0.7078,0.7079,0.708], "labelExpr": "round(datum.value*10000) % 2 === 0 ? format(datum.value, '.4f') : ''", "tickSize": {"condition": {"test": "round(datum.value*10000) % 2 === 0", "value": 18}, "value": 9}, "labelPadding": 7, "domain": false, "grid": false, "title": "⁸⁷Sr/⁸⁶Sr", "titleAngle": 270, "titleAlign": "center", "titleBaseline": "middle", "titleX": 101, "titleY": 83, "titleFontSize": 25, "titleFontWeight": "normal"}},
     "y2": {"datum": 0.708}
    }}
  ]
 },
 {
  "width": 774, "height": 175,
  "resolve": {"axis": {"y": "independent"}},
  "layer": [
   {"data": {"name": "bands"}, "mark": {"type": "rect", "color": "#000"},
    "encoding": {"x": {"field": "s", "type": "quantitative", "scale": {"domain": [66,143], "nice": false, "zero": false}, "axis": null}, "x2": {"field": "e"}, "opacity": {"field": "part", "type": "nominal", "scale": {"domain": ["outer","core"], "range": [0.15,0.18]}, "legend": null}}},
   {"data": {"name": "bounds"}, "mark": {"type": "rule", "color": "#000", "opacity": 0.3, "strokeWidth": 1},
    "encoding": {"x": {"field": "Ma", "type": "quantitative", "scale": {"domain": [66,143], "nice": false, "zero": false}, "axis": null}}},
   {"data": {"name": "kpg"}, "mark": {"type": "rule", "color": "#a3a3a3", "strokeWidth": 3},
    "encoding": {"x": {"field": "Ma", "type": "quantitative", "scale": {"domain": [66,143], "nice": false, "zero": false}, "axis": null}}},
   {"data": {"name": "frame"}, "mark": {"type": "rule", "color": "#231f20", "strokeWidth": 2},
    "encoding": {
     "x": {"field": "Ma", "type": "quantitative", "scale": {"domain": [66,143], "nice": false, "zero": false}, "axis": null},
     "y": {"datum": 0, "type": "quantitative", "scale": {"domain": [0,1.5982], "nice": false, "zero": false},
      "axis": {"orient": "right", "values": [0,0.1,0.2,0.3,0.4,0.5,0.6,0.7,0.8,0.9,1.0,1.1,1.2,1.3,1.4], "labelExpr": "round(datum.value*10) % 2 === 0 ? (datum.value === 0 ? '0' : format(datum.value, '.1f')) : ''", "tickSize": {"condition": {"test": "round(datum.value*10) % 2 === 0", "value": 18}, "value": 9}, "labelPadding": 7, "domain": false, "grid": false, "title": "¹⁸⁷Os/¹⁸⁸Os₍ᵢ₎", "titleAngle": 270, "titleAlign": "center", "titleBaseline": "middle", "titleX": 102, "titleY": 89, "titleFontSize": 25, "titleFontWeight": "normal"}},
     "y2": {"datum": 1.4}
    }},
   {"data": {"name": "os"}, "transform": [{"filter": "datum.grp !== 's14'"}],
    "mark": {"type": "point", "filled": true, "shape": "circle", "size": 38, "stroke": "#231f20", "strokeWidth": 0.7, "opacity": 1},
    "encoding": {
     "x": {"field": "Ma", "type": "quantitative", "scale": {"domain": [66,143], "nice": false, "zero": false}, "axis": null},
     "y": {"field": "os", "type": "quantitative", "scale": {"domain": [0,1.5982], "nice": false, "zero": false},
      "axis": {"orient": "left", "values": [0,0.1,0.2,0.3,0.4,0.5,0.6,0.7,0.8,0.9,1.0,1.1,1.2,1.3,1.4], "labelExpr": "round(datum.value*10) % 2 === 0 ? (datum.value === 0 ? '0' : format(datum.value, '.1f')) : ''", "tickSize": {"condition": {"test": "round(datum.value*10) % 2 === 0", "value": 18}, "value": 9}, "labelPadding": 4, "domain": false, "grid": true, "gridColor": "#8c8c8c", "gridWidth": 1, "title": "(a)", "titleAngle": 0, "titleAlign": "left", "titleBaseline": "middle", "titleX": -115, "titleY": 25, "titleFontSize": 17, "titleFontWeight": "bold"}},
     "fill": {"field": "grp", "type": "nominal", "legend": null, "scale": {"domain": ["s01","s02","s03","s04","s05","s06","s07","s08","s09","s10","s11","s12","s13","s14","s15","s16","s17","s18","s19","s20","s21","s22"], "range": ["#e31e24","#231f20","#808285","#d1d3d4","#ffffff","#1fa9e1","#2db04b","#8dc63f","#00683a","#8b5a2b","#e8c81e","#c8a56e","#7b3f98","#2e3192","#f4a7c7","#a58cc6","#f7941d","#d04a9c","#f2847e","#009a86","#7eb3e0","#a1181e"]}}
    }},
   {"data": {"name": "os"}, "transform": [{"filter": "datum.grp === 's14'"}],
    "mark": {"type": "point", "filled": true, "shape": "circle", "size": 62, "stroke": "#231f20", "strokeWidth": 0.7, "opacity": 1},
    "encoding": {
     "x": {"field": "Ma", "type": "quantitative", "scale": {"domain": [66,143], "nice": false, "zero": false}, "axis": null},
     "y": {"field": "os", "type": "quantitative", "scale": {"domain": [0,1.5982], "nice": false, "zero": false}, "axis": null},
     "fill": {"field": "grp", "type": "nominal", "legend": null, "scale": {"domain": ["s01","s02","s03","s04","s05","s06","s07","s08","s09","s10","s11","s12","s13","s14","s15","s16","s17","s18","s19","s20","s21","s22"], "range": ["#e31e24","#231f20","#808285","#d1d3d4","#ffffff","#1fa9e1","#2db04b","#8dc63f","#00683a","#8b5a2b","#e8c81e","#c8a56e","#7b3f98","#2e3192","#f4a7c7","#a58cc6","#f7941d","#d04a9c","#f2847e","#009a86","#7eb3e0","#a1181e"]}}
    }}
  ]
 },
 {
  "width": 774, "height": 92.7,
  "resolve": {"axis": {"x": "independent"}},
  "layer": [
   {"data": {"name": "stages"}, "mark": {"type": "rect", "stroke": "#231f20", "strokeWidth": 1.5},
    "encoding": {
     "x": {"field": "start", "type": "quantitative", "scale": {"domain": [66,143], "nice": false, "zero": false},
      "axis": {"orient": "bottom", "values": [70,75,80,85,90,95,100,105,110,115,120,125,130,135,140], "tickSize": 20, "labelPadding": 4, "labelFontSize": 14, "labelOverlap": false, "domain": true, "domainColor": "#231f20", "domainWidth": 1.5, "grid": false, "title": "Ma", "titleFontSize": 17, "titleFontWeight": "normal", "titlePadding": 3}},
     "x2": {"field": "end"},
     "y": {"datum": 1, "type": "quantitative", "scale": {"domain": [0,3], "nice": false, "zero": false}, "axis": null},
     "y2": {"datum": 2},
     "fill": {"field": "name", "type": "nominal", "legend": null, "scale": {"domain": ["Maas.","Campanian","Sa.","Con.","Tur.","Cen.","Albian","Aptian","Barr.","Haut.","Val.","Berr.","UPPER CRETACEOUS","LOWER CRETACEOUS"], "range": ["#f3f0a4","#e8ea9c","#dde598","#d2e291","#c6dd85","#b8d775","#d0e6b2","#c2e0a6","#b5da99","#aad591","#a0d088","#94cb7f","#aed36b","#93cb7b"]}}
    }},
   {"data": {"name": "eras"}, "mark": {"type": "rect", "stroke": "#231f20", "strokeWidth": 1.5},
    "encoding": {
     "x": {"field": "start", "type": "quantitative", "scale": {"domain": [66,143], "nice": false, "zero": false},
      "axis": {"orient": "bottom", "values": [66,67,68,69,70,71,72,73,74,75,76,77,78,79,80,81,82,83,84,85,86,87,88,89,90,91,92,93,94,95,96,97,98,99,100,101,102,103,104,105,106,107,108,109,110,111,112,113,114,115,116,117,118,119,120,121,122,123,124,125,126,127,128,129,130,131,132,133,134,135,136,137,138,139,140,141,142,143], "labels": false, "tickSize": 9, "domain": false, "grid": false, "title": null}},
     "x2": {"field": "end"},
     "y": {"datum": 0, "type": "quantitative", "scale": {"domain": [0,3], "nice": false, "zero": false}, "axis": null},
     "y2": {"datum": 1},
     "fill": {"field": "name", "type": "nominal", "legend": null, "scale": {"domain": ["Maas.","Campanian","Sa.","Con.","Tur.","Cen.","Albian","Aptian","Barr.","Haut.","Val.","Berr.","UPPER CRETACEOUS","LOWER CRETACEOUS"], "range": ["#f3f0a4","#e8ea9c","#dde598","#d2e291","#c6dd85","#b8d775","#d0e6b2","#c2e0a6","#b5da99","#aad591","#a0d088","#94cb7f","#aed36b","#93cb7b"]}}
    }},
   {"data": {"name": "stages"}, "transform": [{"calculate": "(datum.start + datum.end) / 2", "as": "mid"}],
    "mark": {"type": "text", "fontSize": 12.5, "color": "#231f20", "align": "center", "baseline": "middle"},
    "encoding": {
     "x": {"field": "mid", "type": "quantitative", "scale": {"domain": [66,143], "nice": false, "zero": false}, "axis": null},
     "y": {"datum": 1.5, "type": "quantitative", "scale": {"domain": [0,3], "nice": false, "zero": false}, "axis": null},
     "text": {"field": "name"}
    }},
   {"data": {"name": "eras"}, "transform": [{"calculate": "(datum.start + datum.end) / 2", "as": "mid"}],
    "mark": {"type": "text", "fontSize": 18, "color": "#231f20", "align": "center", "baseline": "middle"},
    "encoding": {
     "x": {"field": "mid", "type": "quantitative", "scale": {"domain": [66,143], "nice": false, "zero": false}, "axis": null},
     "y": {"datum": 0.5, "type": "quantitative", "scale": {"domain": [0,3], "nice": false, "zero": false}, "axis": null},
     "text": {"field": "name"}
    }},
   {"data": {"name": "bands"}, "mark": {"type": "rect", "color": "#000"},
    "encoding": {"x": {"field": "s", "type": "quantitative", "scale": {"domain": [66,143], "nice": false, "zero": false}, "axis": null}, "x2": {"field": "e"},
     "y": {"datum": 2, "type": "quantitative", "scale": {"domain": [0,3], "nice": false, "zero": false}, "axis": null}, "y2": {"datum": 3},
     "opacity": {"field": "part", "type": "nominal", "scale": {"domain": ["outer","core"], "range": [0.15,0.18]}, "legend": null}}},
   {"data": {"name": "bounds"}, "mark": {"type": "rule", "color": "#000", "opacity": 0.3, "strokeWidth": 1},
    "encoding": {"x": {"field": "Ma", "type": "quantitative", "scale": {"domain": [66,143], "nice": false, "zero": false}, "axis": null},
     "y": {"datum": 2, "type": "quantitative", "scale": {"domain": [0,3], "nice": false, "zero": false}, "axis": null}, "y2": {"datum": 3}}},
   {"data": {"name": "kpg"}, "mark": {"type": "rule", "color": "#a3a3a3", "strokeWidth": 3},
    "encoding": {"x": {"field": "Ma", "type": "quantitative", "scale": {"domain": [66,143], "nice": false, "zero": false}, "axis": null},
     "y": {"datum": 2, "type": "quantitative", "scale": {"domain": [0,3], "nice": false, "zero": false}, "axis": null}, "y2": {"datum": 3}}},
   {"data": {"name": "events"}, "mark": {"type": "text", "fontSize": 17, "fontWeight": "bold", "color": "#231f20", "align": "center", "baseline": "middle"},
    "encoding": {
     "x": {"field": "Ma", "type": "quantitative", "scale": {"domain": [66,143], "nice": false, "zero": false}, "axis": null},
     "y": {"datum": 2.5, "type": "quantitative", "scale": {"domain": [0,3], "nice": false, "zero": false}, "axis": null},
     "text": {"field": "name"}
    }}
  ]
 }
]
}
